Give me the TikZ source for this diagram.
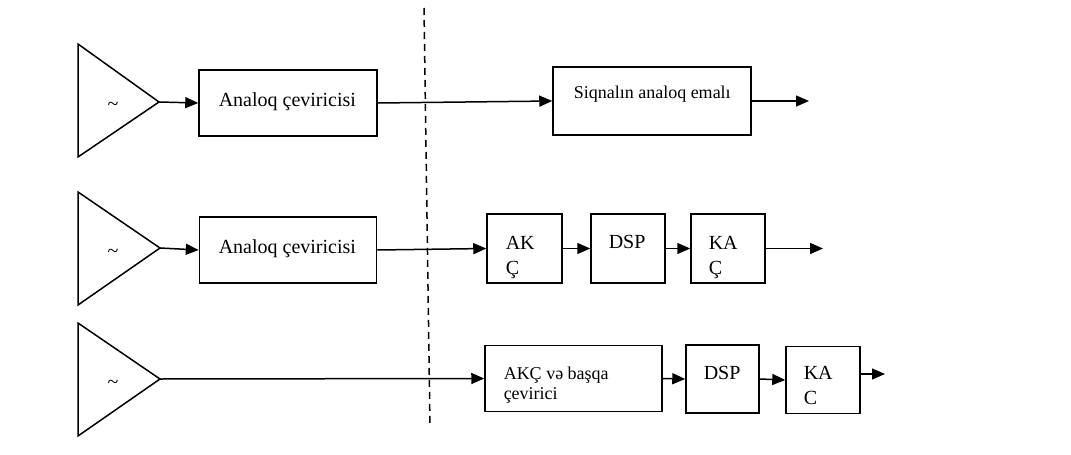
\documentclass[tikz,border=0pt]{standalone}
\usepackage{fontspec}
\setmainfont{Liberation Serif}
\usetikzlibrary{arrows.meta}

\begin{document}
\begin{tikzpicture}[-{Triangle[length=6.5pt,width=5.5pt]},x=0.5pt,y=-0.5pt,line width=0.75pt,
   blok/.style={draw,rectangle,inner sep=0pt},
   yazi/.style={anchor=north west,inner sep=0pt,align=left,font=\fontsize{10}{12.5}\selectfont},
   kicik/.style={yazi,font=\fontsize{9}{10}\selectfont}]
\useasboundingbox (0,0) rectangle (1071,455);
% tetiklemeler
   \coordinate (u1) at (159,102);
   \coordinate (u2) at (160,248);
   \coordinate (u3) at (160,379);
   \draw (78,44) -- (u1) -- (78,157) -- cycle;
   \draw (78,192) -- (u2) -- (78,305) -- cycle;
   \draw (78,323) -- (u3) -- (78,436) -- cycle;
   \node (z1) at (113,106) {\fontsize{10}{12}\selectfont\textasciitilde};
   \node (z2) at (113,253) {\fontsize{10}{12}\selectfont\textasciitilde};
   \node (z3) at (113,384) {\fontsize{10}{12}\selectfont\textasciitilde};
% bloklar
   \node[blok,minimum width=89pt,minimum height=33pt] (b1) at (288,103) {};
   \node[blok,minimum width=99pt,minimum height=34pt] (s1) at (652,101) {};
   \node[blok,minimum width=88.5pt,minimum height=33pt] (b2) at (288,250) {};
   \node[blok,minimum width=37.5pt,minimum height=34.5pt] (a2) at (524.5,248.5) {};
   \node[blok,minimum width=37pt,minimum height=34.5pt] (d2) at (628,248.5) {};
   \node[blok,minimum width=37pt,minimum height=34.5pt] (k2) at (728,248.5) {};
   \node[blok,minimum width=88.5pt,minimum height=33pt] (a3) at (573.5,378.5) {};
   \node[blok,minimum width=36.5pt,minimum height=34pt] (d3) at (722.5,379) {};
   \node[blok,minimum width=37pt,minimum height=33.5pt] (k3) at (823,380) {};
% yazilar
   \node[yazi] (b1t) at (218,92) {Analoq çeviricisi};
   \node[kicik] (s1t) at (573,85) {Siqnalın analoq emalı};
   \node[yazi] (b2t) at (218,239) {Analoq çeviricisi};
   \node[yazi] (a2t) at (505,236) {AK\\Ç};
   \node[yazi] (d2t) at (608,235) {DSP};
   \node[yazi] (k2t) at (708,236) {KA\\Ç};
   \node[kicik] (a3t) at (503,366) {AKÇ və başqa\\çevirici};
   \node[yazi] (d3t) at (703,366) {DSP};
   \node[yazi] (k3t) at (803,366) {KA\\C};
% xett
   \coordinate (k1) at (424,8);
   \coordinate (k2x) at (430,427);
   \draw[-,dash pattern=on 3.5pt off 2.5pt] (k1) -- (k2x);
   \coordinate (o1) at (809,99);
   \coordinate (o2) at (823,246);
   \coordinate (o3) at (885,374);
   \path (u1) edge (b1.west);
   \path (b1.east) edge (s1.west);
   \path (s1.east) edge (s1.east -| o1);
   \path (u2) edge (b2.west);
   \path (b2.east) edge (a2.west);
   \path (a2.east) edge (d2.west);
   \path (d2.east) edge (k2.west);
   \path (k2.east) edge (k2.east -| o2);
   \path (u3) edge (a3.west);
   \path (a3.east) edge (d3.west);
   \path (d3.east) edge (k3.west);
   \path (k3.east |- o3) edge (o3);
   
   \end{tikzpicture}
\end{document}
